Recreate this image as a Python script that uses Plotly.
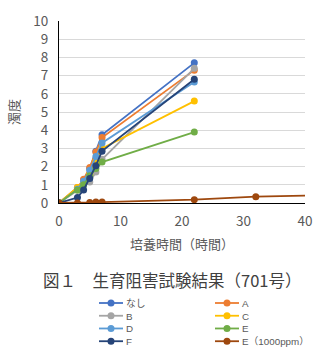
import plotly.graph_objects as go

# ---- data ----
hours = [0, 3, 4, 5, 6, 7, 22]
nashi = [0, 0.8, 1.25, 1.9, 2.85, 3.75, 7.7]
ser_a = [0, 0.85, 1.3, 1.95, 2.8, 3.6, 7.3]
ser_b = [0, 0.7, 0.95, 1.15, 1.7, 2.4, 7.4]
ser_c = [0, 0.85, 1.15, 1.6, 2.3, 3.0, 5.6]
ser_d = [0, 0.75, 1.2, 1.8, 2.55, 3.3, 6.65]
ser_e = [0, 0.72, 1.0, 1.5, 1.9, 2.25, 3.9]
ser_f = [0, 0.3, 0.72, 1.35, 2.05, 2.85, 6.8]
hours_e1000 = [0, 3, 5, 6, 7, 22, 32, 46]
ser_e1000 = [0, 0, 0.03, 0.05, 0.05, 0.18, 0.35, 0.44]

series = [
    ("なし", hours, nashi, "#4472C4"),
    ("A", hours, ser_a, "#ED7D31"),
    ("B", hours, ser_b, "#A5A5A5"),
    ("C", hours, ser_c, "#FFC000"),
    ("D", hours, ser_d, "#5B9BD5"),
    ("E", hours, ser_e, "#70AD47"),
    ("F", hours, ser_f, "#264478"),
    ("E（1000ppm）", hours_e1000, ser_e1000, "#9E480E"),
]

FONT = "Noto Sans CJK JP"
LEG_FONT = "Liberation Sans, Noto Sans CJK JP"
W, H = 323, 358
L, R, T, B = 59, 18, 21, 155
pw, ph = W - L - R, H - T - B

def px(x):
    return (x - L) / pw

def pyp(y_pix):
    return (H - B - y_pix) / ph

fig = go.Figure()
for name, xs, ys, col in series:
    fig.add_trace(go.Scatter(
        x=xs, y=ys, name=name, mode="lines+markers",
        line=dict(color=col, width=1.8),
        marker=dict(color=col, size=7),
        showlegend=False,
    ))

shapes = []
annotations = []
# manual two-column legend (row-major order); one text block per column
LEG_FS = 9.8
row_h = LEG_FS * 1.3
col_x = [99, 215]
row0 = 303
for c in range(2):
    names = []
    for r in range(4):
        i = r * 2 + c
        name, xs, ys, col = series[i]
        ry = row0 + r * row_h
        cx = col_x[c]
        shapes.append(dict(type="line", xref="paper", yref="paper",
                           x0=px(cx), x1=px(cx + 24), y0=pyp(ry), y1=pyp(ry),
                           line=dict(color=col, width=1.8)))
        shapes.append(dict(type="circle", xref="paper", yref="paper",
                           x0=px(cx + 12 - 3.5), x1=px(cx + 12 + 3.5),
                           y0=pyp(ry - 3.5), y1=pyp(ry + 3.5),
                           fillcolor=col, line=dict(color=col, width=0)))
        names.append(name)
    annotations.append(dict(text="<br>".join(names), xref="paper", yref="paper",
                            x=px(col_x[c] + 25), y=pyp(row0 + 1.5 * row_h),
                            xanchor="left", yanchor="middle", align="left",
                            showarrow=False, font=dict(family=LEG_FONT, size=LEG_FS, color="#595959")))

annotations.append(dict(text="図１　生育阻害試験結果（701号）", xref="paper", yref="paper",
                        x=px(172), y=pyp(280), xanchor="center", yanchor="middle",
                        showarrow=False, font=dict(family=FONT, size=16.5, color="#404040")))

fig.update_layout(
    width=W, height=H,
    margin=dict(l=L, r=R, t=T, b=B, autoexpand=False),
    paper_bgcolor="white", plot_bgcolor="white",
    font=dict(family=FONT, color="#595959", size=13),
    shapes=shapes, annotations=annotations,
    xaxis=dict(range=[0, 40], tickvals=[0, 10, 20, 30, 40], showgrid=False,
               showline=True, linecolor="black", linewidth=1, zeroline=False,
               ticks="", ticklabelstandoff=6, tickfont=dict(size=13.5, color="#595959"),
               title=dict(text="培養時間（時間）", font=dict(size=13, color="#595959"), standoff=10)),
    yaxis=dict(range=[0, 10], dtick=1, showgrid=True, gridcolor="#D9D9D9",
               showline=True, linecolor="black", linewidth=1, zeroline=False,
               ticks="", ticklabelstandoff=7, tickfont=dict(size=13.5, color="#595959"),
               title=dict(text="濁度", font=dict(size=13, color="#595959"), standoff=10)),
)

fig.write_html("out.html")
